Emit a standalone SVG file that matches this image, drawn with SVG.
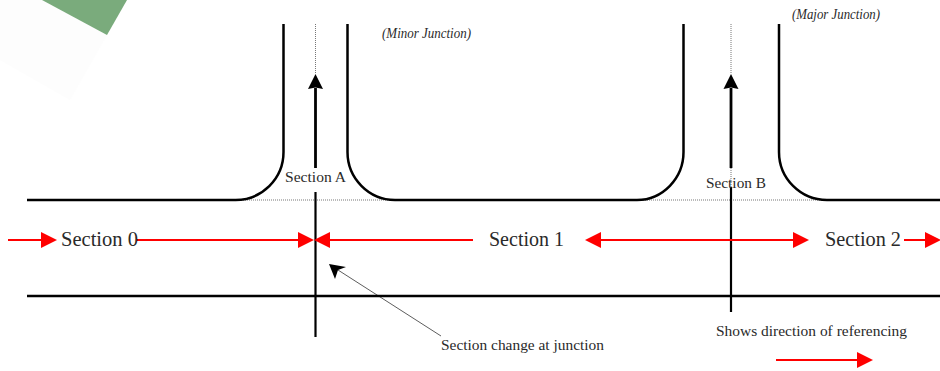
<svg xmlns="http://www.w3.org/2000/svg" width="940" height="371" viewBox="0 0 940 371">
  <style>
    text { font-family: "Liberation Serif", "Times New Roman", serif; fill: #2a2a2a; }
    .big { font-size: 20px; }
    .small { font-size: 15px; }
    .note { font-size: 14px; font-style: italic; }
    .road { fill: none; stroke: #000; stroke-width: 2.5; }
    .dot { fill: none; stroke: #777; stroke-width: 1; stroke-dasharray: 1 1; }
    .red { fill: none; stroke: #f00; stroke-width: 2; }
    .axis { fill: none; stroke: #000; stroke-width: 2.2; }
    .shaft { fill: none; stroke: #000; stroke-width: 2.8; }
  </style>
  <defs>
    <marker id="redHead" markerUnits="userSpaceOnUse" markerWidth="16" markerHeight="16" refX="0" refY="8" orient="auto-start-reverse">
      <path d="M0 0 L16 8 L0 16 Z" fill="#f00"/>
    </marker>
    <marker id="blackHead" markerUnits="userSpaceOnUse" markerWidth="16" markerHeight="16" refX="1" refY="8" orient="auto">
      <path d="M0 0.5 L15 8 L0 15.500 L1.500 8 Z" fill="#000"/>
    </marker>
  </defs>

  <g id="background">
    <polygon points="0,0 42,0 107,35 70,100 0,60" fill="#fdfdfd"/>
    <polygon points="42,0 127,0 107,35" fill="#7aab7c"/>
  </g>

  <g id="connectors">
    <path class="dot" d="M235 200H395M637 200H826M315.500 24V74M731 24V74M731 168V188"/>
    <path class="shaft" d="M315.500 168V88" marker-end="url(#blackHead)"/>
    <path class="shaft" d="M731 168V88" marker-end="url(#blackHead)"/>
    <path class="axis" d="M315.500 192V337"/>
    <path class="axis" d="M731 187V312"/>
    <path d="M441 336L338 270" fill="none" stroke="#333" stroke-width="0.800"/>
    <polygon points="329,264 346,267 338,270 335,279" fill="#000"/>
    <path class="red" d="M8 240H41" marker-end="url(#redHead)"/>
    <path class="red" d="M137 240H298" marker-end="url(#redHead)"/>
    <path class="red" d="M473 240H330" marker-end="url(#redHead)"/>
    <path class="red" d="M601 240H793" marker-start="url(#redHead)" marker-end="url(#redHead)"/>
    <path class="red" d="M904 240H925" marker-end="url(#redHead)"/>
    <path class="red" d="M776 360H857" marker-end="url(#redHead)"/>
  </g>

  <g id="road-upper">
    <path class="road" d="M27 200H235A48 48 0 0 0 283.500 152V24"/>
    <path class="road" d="M347.500 24V152A48 48 0 0 0 395 200H637A47 48 0 0 0 683.500 152V24"/>
    <path class="road" d="M779 24V152A48 48 0 0 0 827 200H940"/>
  </g>
  <g id="road-lower">
    <path class="road" d="M27 296H940"/>
  </g>

  <g id="label-section-0"><text class="big" x="61" y="246" textLength="77" lengthAdjust="spacingAndGlyphs">Section 0</text></g>
  <g id="label-section-1"><text class="big" x="489" y="246" textLength="75" lengthAdjust="spacingAndGlyphs">Section 1</text></g>
  <g id="label-section-2"><text class="big" x="825" y="246" textLength="76" lengthAdjust="spacingAndGlyphs">Section 2</text></g>
  <g id="label-section-a"><text class="small" x="285" y="182" textLength="61" lengthAdjust="spacingAndGlyphs">Section A</text></g>
  <g id="label-section-b"><text class="small" x="706" y="188" textLength="60" lengthAdjust="spacingAndGlyphs">Section B</text></g>
  <g id="label-minor"><text class="note" x="382" y="38" textLength="89" lengthAdjust="spacingAndGlyphs">(Minor Junction)</text></g>
  <g id="label-major"><text class="note" x="792" y="19" textLength="88" lengthAdjust="spacingAndGlyphs">(Major Junction)</text></g>
  <g id="label-change"><text class="small" x="441" y="350" textLength="163" lengthAdjust="spacingAndGlyphs">Section change at junction</text></g>
  <g id="label-legend"><text class="small" x="716" y="336" textLength="191" lengthAdjust="spacingAndGlyphs">Shows direction of referencing</text></g>
</svg>
